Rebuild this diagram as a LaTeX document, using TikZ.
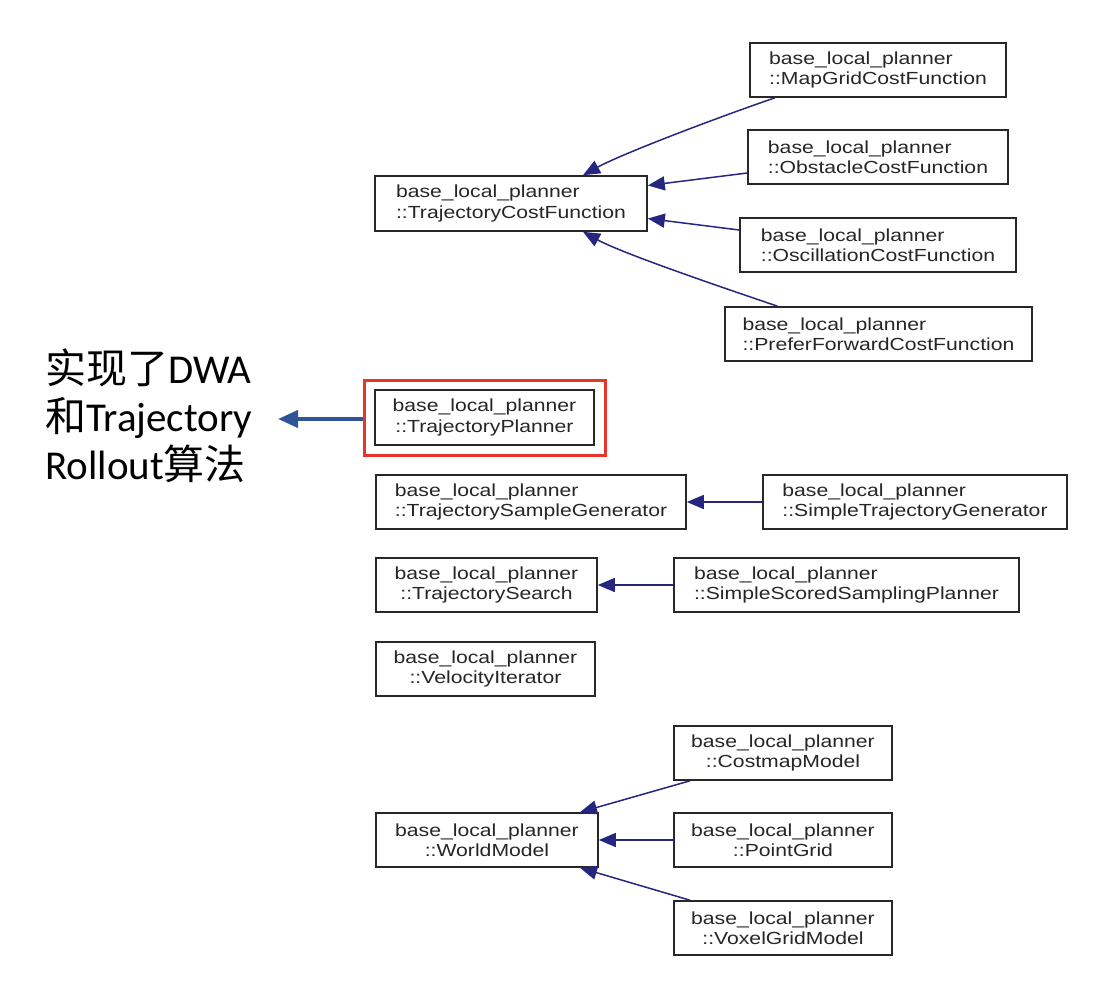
\documentclass[tikz,border=0pt]{standalone}
\usepackage{fontspec}
\usetikzlibrary{arrows.meta}
\newfontfamily\boxfont[FakeStretch=1.21]{Liberation Sans}
\newfontfamily\cjkfont{Noto Sans CJK SC}
\newfontfamily\latfont{Carlito}
\definecolor{edgeblue}{RGB}{38,38,128}
\definecolor{noteblue}{RGB}{47,85,151}
\definecolor{hired}{RGB}{232,53,43}
\definecolor{boxline}{RGB}{40,40,40}
\begin{document}
\begin{tikzpicture}[x=1pt,y=-1pt,
  cls/.style={draw=boxline, line width=1.6pt, fill=white, inner sep=0pt,
    minimum height=54pt, text=black!85,
    font=\boxfont\fontsize{17.5}{20.5}\selectfont},
  clsl/.style={cls, align=left},
  clsc/.style={cls, align=center},
  inh/.style={draw=edgeblue, line width=1.5pt,
    -{Triangle[length=17pt,width=14pt,fill=edgeblue]}}
]
\useasboundingbox (0,0) rectangle (1104,1002);

% top group
\node[clsl, minimum width=256pt] (mgc) at (878,70) {base\_local\_planner\\::MapGridCostFunction};
\node[clsl, minimum width=260pt] (occ) at (878,157) {base\_local\_planner\\::ObstacleCostFunction};
\node[clsl, minimum width=272pt, minimum height=55pt] (tcf) at (511,203.5) {base\_local\_planner\\::TrajectoryCostFunction};
\node[clsl, minimum width=276pt] (osc) at (878,245) {base\_local\_planner\\::OscillationCostFunction};
\node[clsl, minimum width=307pt] (pfc) at (878.5,334) {base\_local\_planner\\::PreferForwardCostFunction};

% highlighted
\node[clsc, minimum width=219pt, minimum height=55pt] (tp) at (484.5,417.5) {base\_local\_planner\\::TrajectoryPlanner};
\node[draw=hired, line width=3pt, minimum width=241pt, minimum height=75pt, inner sep=0pt] (hl) at (484.5,417.5) {};

% middle
\node[clsl, minimum width=310pt] (tsg) at (531,502) {base\_local\_planner\\::TrajectorySampleGenerator};
\node[clsl, minimum width=304pt] (stg) at (915,502) {base\_local\_planner\\::SimpleTrajectoryGenerator};
\node[clsc, minimum width=221pt] (ts) at (486.5,585) {base\_local\_planner\\::TrajectorySearch};
\node[clsl, minimum width=345pt] (sssp) at (846.5,585) {base\_local\_planner\\::SimpleScoredSamplingPlanner};
\node[clsc, minimum width=219pt] (vi) at (485.5,669) {base\_local\_planner\\::VelocityIterator};

% bottom
\node[clsc, minimum width=218pt] (cm) at (783,753) {base\_local\_planner\\::CostmapModel};
\node[clsc, minimum width=222pt] (wm) at (487,840) {base\_local\_planner\\::WorldModel};
\node[clsc, minimum width=218pt] (pg) at (783,840) {base\_local\_planner\\::PointGrid};
\node[clsc, minimum width=218pt] (vgm) at (783,928) {base\_local\_planner\\::VoxelGridModel};

% inheritance edges
\draw[inh] ([xshift=-103pt]mgc.south) .. controls +(-50,17) and +(40,-22) .. ([xshift=72pt]tcf.north);
\draw[inh] ([yshift=-16pt]occ.west) -- ([yshift=18pt]tcf.east);
\draw[inh] ([yshift=15pt]osc.west) -- ([yshift=-15pt]tcf.east);
\draw[inh] ([xshift=-101pt]pfc.north) .. controls +(-50,-17) and +(40,22) .. ([xshift=72pt]tcf.south);
\draw[inh] (stg.west) -- (tsg.east);
\draw[inh] (sssp.west) -- (ts.east);
\draw[inh] ([xshift=-93pt]cm.south) -- ([xshift=93pt]wm.north);
\draw[inh] (pg.west) -- (wm.east);
\draw[inh] ([xshift=-93pt]vgm.north) -- ([xshift=93pt]wm.south);

% note
\node[anchor=west, align=left, inner sep=0pt, text=black,
  font=\fontsize{41}{48}\selectfont] (note) at (45,416)
  {\cjkfont 实现了\latfont DWA\\\cjkfont 和\latfont Trajectory\\\latfont Rollout\cjkfont 算法};
\coordinate (notetip) at (278,419);
\draw[draw=noteblue, line width=4pt, -{Triangle[length=20pt,width=17pt,fill=noteblue]}] (hl.west |- notetip) -- (notetip);
\end{tikzpicture}
\end{document}
